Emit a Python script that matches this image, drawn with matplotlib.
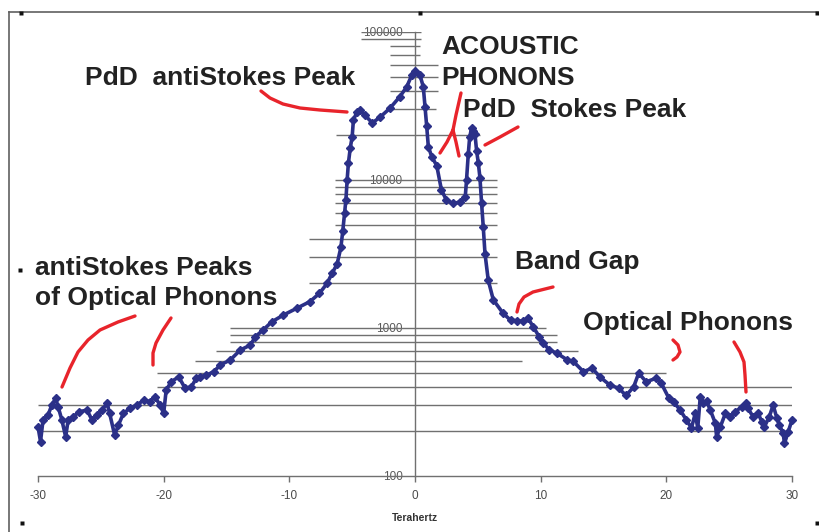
import matplotlib
matplotlib.use("Agg")
import matplotlib.pyplot as plt
import numpy as np

# ---- data ----
freq_thz = [-30.0, -29.8, -29.6, -29.2, -28.9, -28.6, -28.4, -28.1, -27.8, -27.6,
            -27.2, -26.7, -26.1, -25.7, -25.3, -24.9, -24.5, -24.3, -23.9, -23.6,
            -23.2, -22.7, -22.1, -21.6, -21.1, -20.7, -20.3, -20.0, -19.8, -19.4,
            -18.8, -18.3, -17.8, -17.4, -17.1, -16.6, -16.0, -15.5, -14.7, -13.9,
            -13.1, -12.7, -12.1, -11.4, -10.5, -9.4, -8.35, -7.6, -7.0, -6.6,
            -6.2, -5.9, -5.75, -5.6, -5.5, -5.4, -5.3, -5.15, -5.0, -4.9,
            -4.6, -4.4, -4.0, -3.4, -2.8, -2.0, -1.2, -0.66, -0.26, 0.0,
            0.4, 0.66, 0.8, 0.93, 1.06, 1.33, 1.73, 2.1, 2.5, 3.05,
            3.6, 4.0, 4.1, 4.24, 4.35, 4.5, 4.65, 4.77, 4.9, 5.04,
            5.17, 5.3, 5.43, 5.57, 5.83, 6.23, 7.0, 7.6, 8.1, 8.6,
            9.0, 9.4, 9.9, 10.2, 10.7, 11.3, 12.1, 12.6, 13.4, 14.1,
            14.7, 15.5, 16.2, 16.8, 17.4, 17.8, 18.4, 19.2, 19.6, 20.2,
            20.6, 21.1, 21.6, 22.0, 22.3, 22.5, 22.7, 22.9, 23.2, 23.5,
            23.9, 24.0, 24.3, 24.7, 25.1, 25.5, 26.0, 26.3, 26.5, 26.9,
            27.3, 27.6, 27.8, 28.2, 28.5, 28.8, 29.0, 29.3, 29.4, 29.7,
            30.0]
counts = [215, 171, 239, 258, 302, 335, 294, 239, 184, 239,
          252, 272, 279, 239, 258, 279, 310, 265, 189, 221,
          265, 286, 302, 326, 318, 344, 302, 265, 381, 433,
          468, 392, 400, 458, 468, 480, 507, 563, 608, 710,
          767, 875, 967, 1100, 1220, 1360, 1510, 1715, 2000, 2340,
          2700, 3500, 4500, 6000, 7300, 10000, 13000, 16500, 19600, 25500,
          29000, 29800, 27500, 24300, 26500, 30500, 36600, 42600, 51000, 54500,
          51000, 42600, 31300, 23100, 16800, 14400, 12500, 8600, 7300, 6950,
          7100, 7700, 10000, 15000, 19500, 22300, 21500, 20500, 15800, 13000,
          10300, 6950, 4830, 3180, 2100, 1550, 1260, 1130, 1120, 1110,
          1165, 1020, 870, 790, 710, 675, 610, 594, 507, 535,
          468, 412, 392, 350, 400, 495, 433, 458, 423, 336,
          315, 279, 239, 211, 265, 211, 343, 310, 320, 279,
          227, 184, 215, 265, 252, 272, 294, 310, 286, 252,
          265, 233, 215, 252, 302, 245, 221, 194, 166, 199,
          239]
x_ticks = [-30, -20, -10, 0, 10, 20, 30]
y_ticks = [100, 1000, 10000, 100000]
y_tick_labels = ["100", "1000", "10000", "100000"]
x_label = "Terahertz"

# gridline levels and their horizontal extents (style of the original picture)
grid_levels = [200, 300, 400, 500, 600, 700, 800, 900, 1000,
               2000, 3000, 4000, 5000, 6000, 7000, 8000, 9000, 10000,
               20000, 30000, 40000, 50000, 60000, 70000, 80000, 90000, 100000]
grid_left = [-30, -30, -20.5, -20.5, -17.5, -15.8, -14.7, -14.7, -14.7,
             -8.4, -8.4, -8.4, -6.4, -6.4, -6.4, -6.4, -6.4, -6.4,
             -6.3, -2.0, -2.0, -2.0, -2.0, -2.0, -2.0, -4.3, -4.3]
grid_right = [30, 30, 30, 20, 8.5, 13, 11.3, 11.3, 10.4,
              6.5, 6.5, 6.5, 6.5, 6.5, 6.5, 6.5, 6.5, 6.5,
              5.2, 1.7, 1.8, 1.8, 1.8, 0.4, 0.4, 0.5, 0.5]

W, H = 820, 532
fig = plt.figure(figsize=(W / 100, H / 100), dpi=100)
fig.patch.set_facecolor("white")

ax_l, ax_r, ax_t, ax_b = 38, 792, 32, 476
ax = fig.add_axes([ax_l / W, 1 - ax_b / H, (ax_r - ax_l) / W, (ax_b - ax_t) / H])
ax.set_xlim(-30, 30)
ax.set_yscale("log")
ax.set_ylim(100, 100000)
ax.patch.set_alpha(0)

grid_color = "#707070"
for lvl, a, b in zip(grid_levels, grid_left, grid_right):
    ax.hlines(lvl, a, b, color=grid_color, lw=1.0, zorder=3)

navy = "#2B3088"
ax.plot(freq_thz, counts, color=navy, lw=2.6, marker="D", ms=4.2,
        mec=navy, mfc=navy, zorder=4, clip_on=False)

for s in ["top", "right"]:
    ax.spines[s].set_visible(False)
ax.spines["left"].set_position(("data", 0))
ax.spines["left"].set_color(grid_color)
ax.spines["bottom"].set_color(grid_color)
ax.spines["left"].set_linewidth(1.0)
ax.spines["bottom"].set_linewidth(1.0)
ax.spines["left"].set_zorder(3)

ax.set_xticks(x_ticks)
ax.set_xticklabels([str(v) for v in x_ticks])
ax.set_yticks(y_ticks)
ax.set_yticklabels(y_tick_labels)
ax.yaxis.set_minor_locator(matplotlib.ticker.NullLocator())
ax.tick_params(axis="x", direction="out", length=4, width=1.0, color=grid_color,
               labelsize=8.5, labelcolor="#4a4a4a", pad=6)
ax.tick_params(axis="y", length=0, labelsize=8.5, labelcolor="#5a5a5a", pad=9)
for lab in ax.get_xticklabels() + ax.get_yticklabels():
    lab.set_family("Liberation Sans")

# overlay in pixel coordinates for annotations
ov = fig.add_axes([0, 0, 1, 1], zorder=10)
ov.set_xlim(0, W)
ov.set_ylim(H, 0)
ov.axis("off")
ov.patch.set_alpha(0)

ov.text(415, 518, x_label, ha="center", va="center", fontsize=7.5,
        fontweight="bold", color="#333333", family="Liberation Sans")

# chart frame
frame_c = "#606060"
ov.plot([9, 9], [12, H + 2], color=frame_c, lw=1.2, clip_on=False)
ov.plot([9, 818], [12, 12], color=frame_c, lw=1.2, clip_on=False)
for (px, py) in [(21, 13), (420, 13), (817, 13), (22, 523), (817, 523), (20, 270)]:
    ov.plot(px, py, marker="s", ms=2.2, color="#111111", mec="none")

txt_kw = dict(fontsize=19, fontweight="bold", color="#222222",
              family="Liberation Sans", va="center", ha="left")
ov.text(85, 78, "PdD  antiStokes Peak", **txt_kw)
ov.text(441, 47, "ACOUSTIC", **txt_kw)
ov.text(441, 78, "PHONONS", **txt_kw)
ov.text(463, 110, "PdD  Stokes Peak", **txt_kw)
ov.text(515, 262, "Band Gap", **txt_kw)
ov.text(35, 268, "antiStokes Peaks", **txt_kw)
ov.text(35, 298, "of Optical Phonons", **txt_kw)
ov.text(583, 323, "Optical Phonons", **txt_kw)

red = "#E8242B"
strokes = [
    [(261, 91), (270, 98), (283, 104), (300, 108), (320, 110), (347, 112)],
    [(461, 93), (456, 115), (453, 130)],
    [(453, 130), (447, 142), (440, 153)],
    [(453, 130), (456, 142), (459, 156)],
    [(485, 145), (500, 137), (518, 127)],
    [(517, 312), (519, 304), (524, 297), (533, 292), (545, 289), (553, 287)],
    [(673, 340), (678, 345), (680, 352), (677, 357), (673, 360)],
    [(734, 342), (740, 352), (744, 362), (745, 375), (746, 392)],
    [(135, 316), (118, 322), (100, 330), (88, 340), (78, 352), (70, 368), (62, 387)],
    [(171, 318), (163, 330), (156, 343), (153, 353), (153, 365)],
]
for st in strokes:
    xs, ys = zip(*st)
    ov.plot(xs, ys, color=red, lw=2.4, solid_capstyle="round",
            solid_joinstyle="round")

fig.savefig("out.png", dpi=100, facecolor="white")
